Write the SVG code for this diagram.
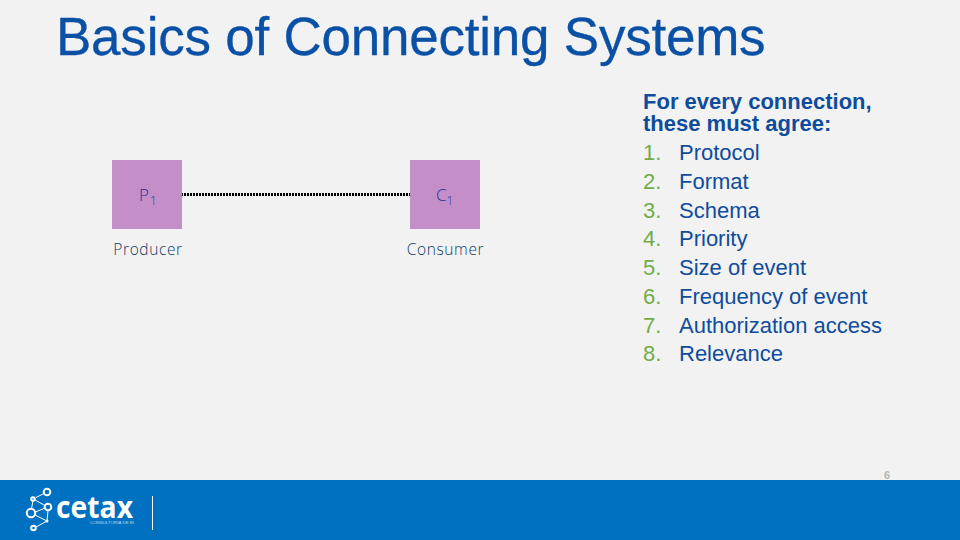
<svg xmlns="http://www.w3.org/2000/svg" width="960" height="540" viewBox="0 0 960 540">
<style>
text{font-family:"Liberation Sans",Arial,sans-serif}
.title{font-size:53px;fill:#0a50a5;letter-spacing:-.23px;stroke:#0a50a5;stroke-width:.3px}
.box{fill:#c48fc9}
.lab{font-family:"Open Sans",sans-serif;font-size:15.500px;font-weight:300;fill:#0f3a66;text-anchor:middle;letter-spacing:.6px}
.in{font-family:"Open Sans",sans-serif;font-size:17px;font-weight:300;fill:#24329a}
.sub{font-size:12px}
.hd{font-size:22px;font-weight:bold;fill:#0f4c9c}
.n{font-size:22px;fill:#70ad47}
.it{font-size:22px;fill:#0f4c9c}
.lg{fill:none;stroke:#fff}
</style>
<rect width="960" height="540" fill="#f2f2f2"/>
<text class="title" x="56" y="55">Basics of Connecting Systems</text>
<g id="connectors"><line x1="181" y1="194.500" x2="411" y2="194.500" stroke="#000" stroke-width="3" stroke-dasharray="2 1"/></g>
<g id="p1"><rect class="box" x="112" y="160" width="70" height="69"/><text class="in" x="139" y="201">P<tspan class="sub" dy="4" dx="1">1</tspan></text><text class="lab" x="148" y="254.500">Producer</text></g>
<g id="c1"><rect class="box" x="410" y="160" width="70" height="69"/><text class="in" x="436" y="201">C<tspan class="sub" dy="4" dx="0">1</tspan></text><text class="lab" x="445.500" y="254.500">Consumer</text></g>
<g id="list">
<text class="hd"><tspan x="643" y="109">For every connection,</tspan><tspan x="643" y="131">these must agree:</tspan></text>
<text class="n" x="643" y="160">1.</text><text class="it" x="679" y="160">Protocol</text>
<text class="n" x="643" y="189">2.</text><text class="it" x="679" y="189">Format</text>
<text class="n" x="643" y="218">3.</text><text class="it" x="679" y="218">Schema</text>
<text class="n" x="643" y="246">4.</text><text class="it" x="679" y="246">Priority</text>
<text class="n" x="643" y="275">5.</text><text class="it" x="679" y="275">Size of event</text>
<text class="n" x="643" y="304">6.</text><text class="it" x="679" y="304">Frequency of event</text>
<text class="n" x="643" y="333">7.</text><text class="it" x="679" y="333">Authorization access</text>
<text class="n" x="643" y="361">8.</text><text class="it" x="679" y="361">Relevance</text>
</g>
<text x="887" y="479" font-size="11" font-weight="bold" fill="#b5b5b5" text-anchor="middle">6</text>
<rect y="480" width="960" height="60" fill="#0070c0"/>
<g id="logo">
<path class="lg" stroke-width="1" d="M36 497.500 44 493.500M35 500 45 505.500M35.500 512 45 508M31.500 508.500 33 501M35 515 47 521M47 521 36 527M48 510.500 47 521"/>
<g class="lg" stroke-width="2">
<circle cx="47" cy="492" r="3.300"/><circle cx="33" cy="499" r="1.800"/><circle cx="48" cy="507" r="3.300"/><circle cx="31" cy="513" r="4.200"/><circle cx="33.500" cy="528" r="2.300"/>
</g>
<circle cx="47" cy="521" r="1.500" fill="#fff"/>
<text fill="#fff"><tspan x="56" y="517.500" font-family="Open Sans" font-size="30" font-weight="700" textLength="77" lengthAdjust="spacingAndGlyphs">cetax</tspan><tspan x="90" y="523.500" font-size="4" fill-opacity=".75" textLength="44" lengthAdjust="spacingAndGlyphs">CONSULTORIA DE BI</tspan></text>
<line x1="152.500" y1="496" x2="152.500" y2="530" stroke="#fff" stroke-width="1"/>
</g>
</svg>
